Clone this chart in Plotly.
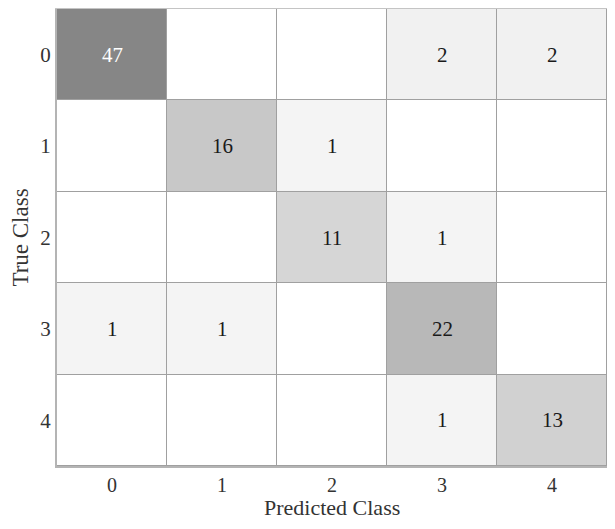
import plotly.graph_objects as go

classes = ["0", "1", "2", "3", "4"]
matrix = [
    [47, 0, 0, 2, 2],
    [0, 16, 1, 0, 0],
    [0, 0, 11, 1, 0],
    [1, 1, 0, 22, 0],
    [0, 0, 0, 1, 13],
]
x_title = "Predicted Class"
y_title = "True Class"

zmax = 47
colorscale = [
    [0.0, "#ffffff"],
    [1 / zmax, "#f4f4f4"],
    [2 / zmax, "#f1f1f1"],
    [11 / zmax, "#d6d6d6"],
    [13 / zmax, "#d1d1d1"],
    [16 / zmax, "#c8c8c8"],
    [22 / zmax, "#b8b8b8"],
    [1.0, "#868686"],
]

FONT = "Liberation Serif, Times New Roman, serif"
BOTTOM = 55

fig = go.Figure()
fig.add_trace(
    go.Heatmap(
        z=matrix,
        x=classes,
        y=classes,
        colorscale=colorscale,
        zmin=0,
        zmax=zmax,
        showscale=False,
        xgap=1,
        ygap=1,
        hoverinfo="skip",
    )
)
# invisible trace so the top (border) axis is drawn
fig.add_trace(
    go.Scatter(x=classes, y=classes, xaxis="x2", mode="none", showlegend=False, hoverinfo="skip")
)

annotations = []
for i, row in enumerate(matrix):
    for j, v in enumerate(row):
        if v == 0:
            continue
        annotations.append(
            dict(
                x=classes[j],
                y=classes[i],
                text=str(v),
                showarrow=False,
                font=dict(family=FONT, size=21, color="#ffffff" if v > zmax * 0.6 else "#1a1a1a"),
            )
        )

# x-axis title placed as a paper annotation at the bottom of the figure
annotations.append(
    dict(
        text=x_title,
        xref="paper",
        yref="paper",
        x=0.5,
        y=0,
        xanchor="center",
        yanchor="bottom",
        yshift=-BOTTOM,
        borderpad=0,
        showarrow=False,
        font=dict(family=FONT, size=22, color="#333333"),
    )
)

fig.update_layout(
    width=599,
    height=513,
    margin=dict(l=49, r=0, t=1, b=BOTTOM),
    paper_bgcolor="white",
    plot_bgcolor="#a0a0a0",
    font=dict(family=FONT, size=20, color="#333333"),
    annotations=annotations,
    xaxis=dict(
        type="category",
        showgrid=False,
        zeroline=False,
        ticks="outside",
        ticklen=0,
        tickcolor="rgba(0,0,0,0)",
        tickfont=dict(family=FONT, size=20),
        showline=True,
        linecolor="#b4b4b4",
        linewidth=2,
        mirror=False,
        automargin=False,
    ),
    xaxis2=dict(
        type="category",
        matches="x",
        overlaying="x",
        side="top",
        showgrid=False,
        zeroline=False,
        showticklabels=False,
        ticks="",
        showline=True,
        linecolor="#c4c4c4",
        linewidth=2,
    ),
    yaxis=dict(
        title=dict(text=y_title, font=dict(family=FONT, size=23, color="#333333"), standoff=13),
        type="category",
        autorange="reversed",
        showgrid=False,
        zeroline=False,
        ticks="outside",
        ticklen=0,
        tickcolor="rgba(0,0,0,0)",
        tickfont=dict(family=FONT, size=21),
        showline=True,
        linecolor="#b4b4b4",
        linewidth=2,
        mirror=False,
        automargin=False,
    ),
)

fig.write_html("out.html")
